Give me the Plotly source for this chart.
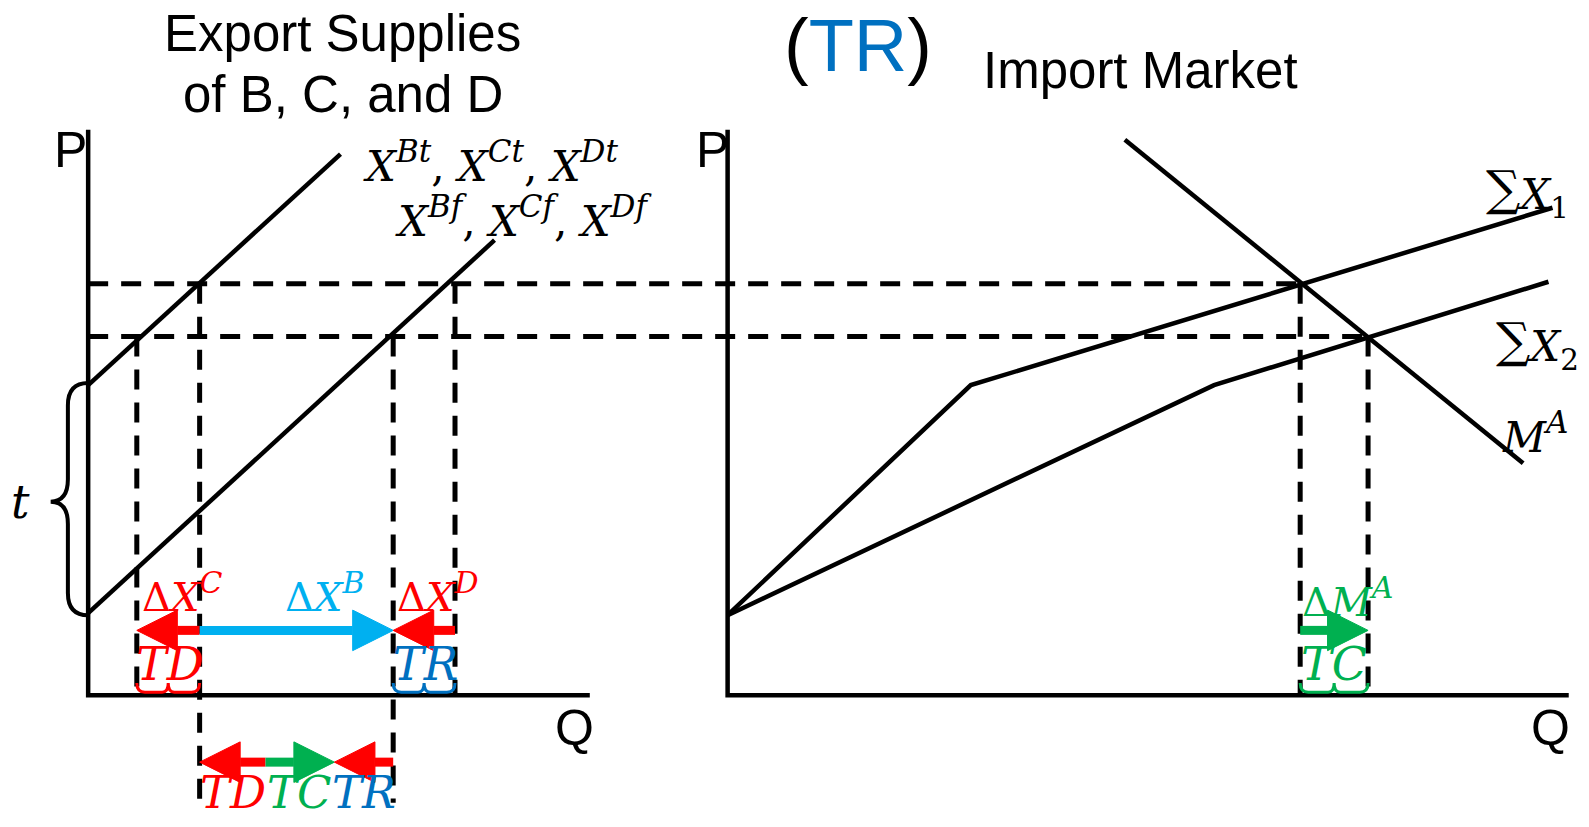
import plotly.graph_objects as go

# diagram drawn in the reference's own pixel space (y grows downwards)
RED, SKY, BLUE, GREEN = '#FF0000', '#00B0F0', '#0070C0', '#00B050'

# left panel: export supplies of B, C and D
left_axis_q = [87, 87, 582]
left_axis_p = [128, 686, 686]
tariff_q, tariff_p = [87, 336], [380, 152]      # X^Bt, X^Ct, X^Dt
free_q, free_p = [87, 488], [605, 237]          # X^Bf, X^Cf, X^Df

# right panel: import market
right_axis_q = [718, 718, 1548]
right_axis_p = [128, 686, 686]
sum1_q, sum1_p = [718, 958, 1532], [607, 380, 205]   # sum X_1
sum2_q, sum2_p = [718, 1198, 1528], [607, 380, 278]  # sum X_2
ma_q, ma_p = [1110, 1503], [138, 457]                # M^A

# equilibrium prices and quantities
price_hi, price_lo = 280, 332
drops = [  # (q, top price, bottom)
    (135, price_lo, 686), (197, price_hi, 792), (388, price_lo, 792),
    (449, price_hi, 686), (1283, price_hi, 686), (1350, price_lo, 686),
]
hlines = [(price_hi, 87, 1283), (price_lo, 87, 1350)]

# quantity-change arrows: (from, to, level, colour)
arrows = [
    (197, 135, 622, RED), (197, 388, 622, SKY), (449, 388, 622, RED),
    (1283, 1350, 622, GREEN),
    (262, 197, 752, RED), (262, 330, 752, GREEN), (388, 330, 752, RED),
]
braces = [(135, 197, RED), (388, 449, BLUE), (1283, 1350, GREEN)]

fig = go.Figure()

DASH = dict(color='black', width=5, dash='20px,13px')
for q, top, bot in drops:
    fig.add_trace(go.Scatter(x=[q, q], y=[top, bot], mode='lines', line=DASH))
for p, q0, q1 in hlines:
    fig.add_trace(go.Scatter(x=[q0, q1], y=[p, p], mode='lines', line=DASH))

for xs, ys in [(left_axis_q, left_axis_p), (right_axis_q, right_axis_p),
               (tariff_q, tariff_p), (free_q, free_p),
               (sum1_q, sum1_p), (sum2_q, sum2_p), (ma_q, ma_p)]:
    fig.add_trace(go.Scatter(x=xs, y=ys, mode='lines',
                             line=dict(color='black', width=4.5)))

HEAD, HALF = 40, 20
for q0, q1, y, col in arrows:
    d = 1 if q1 > q0 else -1
    base = q1 - d * HEAD
    fig.add_trace(go.Scatter(x=[q0, base], y=[y, y], mode='lines',
                             line=dict(color=col, width=9)))
    fig.add_trace(go.Scatter(x=[q1, base, base, q1], y=[y, y - HALF, y + HALF, y],
                             mode='lines', fill='toself', fillcolor=col,
                             line=dict(color=col, width=1)))

shapes = [dict(type='path', xref='x', yref='y',
               path='M 87,378 Q 67,378 67,400 L 67,473 Q 67,495 50,495 '
                    'Q 67,495 67,517 L 67,585 Q 67,607 87,607',
               line=dict(color='black', width=4))]
for q0, q1, col in braces:
    m, y = (q0 + q1) / 2, 683
    shapes.append(dict(
        type='path', xref='x', yref='y',
        path=f'M {q0},{y-9} Q {q0},{y} {q0+8},{y} L {m-6},{y} Q {m},{y} {m},{y-9} '
             f'Q {m},{y} {m+6},{y} L {q1-8},{y} Q {q1},{y} {q1},{y-9}',
        line=dict(color=col, width=3)))

SANS, SERIF = 'Liberation Sans', 'DejaVu Serif'


def txt(x, y, s, size, color='black', family=SERIF, anchor='center'):
    fig.add_annotation(x=x, y=y, text=s, showarrow=False, xanchor=anchor,
                       yanchor='middle', font=dict(family=family, size=size, color=color))


def sup(s, size):
    return (f'<span style="font-size:{size}px;baseline-shift:{round(size * 0.6)}px">'
            f'<i>{s}</i></span>')


def X(s, size=31):
    return '<i>X</i>' + sup(s, size)


def sigma_x(n):
    return ('<span style="font-size:48px;baseline-shift:4px">∑</span>'
            f'<i>X</i><sub>{n}</sub>')


txt(338, 33, 'Export Supplies', 51, family=SANS)
txt(338, 93, 'of B, C, and D', 51, family=SANS)
txt(847, 45, f'(<span style="color:{BLUE}">TR</span>)', 74, family=SANS)
txt(1125, 70, 'Import Market', 51, family=SANS)
txt(70, 148, 'P', 50, family=SANS)
txt(703, 148, 'P', 50, family=SANS)
txt(567, 718, 'Q', 50, family=SANS)
txt(1530, 718, 'Q', 50, family=SANS)

txt(356, 160, f'{X("Bt")}, {X("Ct")}, {X("Dt")}', 42, anchor='left')
txt(388, 214, f'{X("Bf")}, {X("Cf")}, {X("Df")}', 42, anchor='left')
txt(1464, 190, sigma_x(1), 42, anchor='left')
txt(1474, 340, sigma_x(2), 42, anchor='left')
txt(1480, 427, '<i>M</i>' + sup('A', 31), 42, anchor='left')
txt(20, 495, '<i>t</i>', 46)

txt(180, 585, 'Δ' + X('C', 30), 40, RED)
txt(320, 585, 'Δ' + X('B', 30), 40, SKY)
txt(432, 585, 'Δ' + X('D', 30), 40, RED)
txt(1330, 590, 'Δ<i>M</i>' + sup('A', 30), 40, GREEN)
txt(168, 655, '<i>TD</i>', 46, RED)
txt(420, 655, '<i>TR</i>', 46, BLUE)
txt(1316, 655, '<i>TC</i>', 46, GREEN)
txt(230, 782, '<i>TD</i>', 45, RED)
txt(295, 782, '<i>TC</i>', 45, GREEN)
txt(359, 782, '<i>TR</i>', 45, BLUE)

# the page body adds an 8px margin, so the figure starts 8px in
fig.update_layout(
    width=1581, height=819, margin=dict(l=0, r=0, t=0, b=0),
    paper_bgcolor='white', plot_bgcolor='white', showlegend=False,
    shapes=shapes,
    xaxis=dict(range=[7.9, 1568], visible=False, fixedrange=True),
    yaxis=dict(range=[816, 7.9], visible=False, fixedrange=True),
)

fig.write_html('out.html')
